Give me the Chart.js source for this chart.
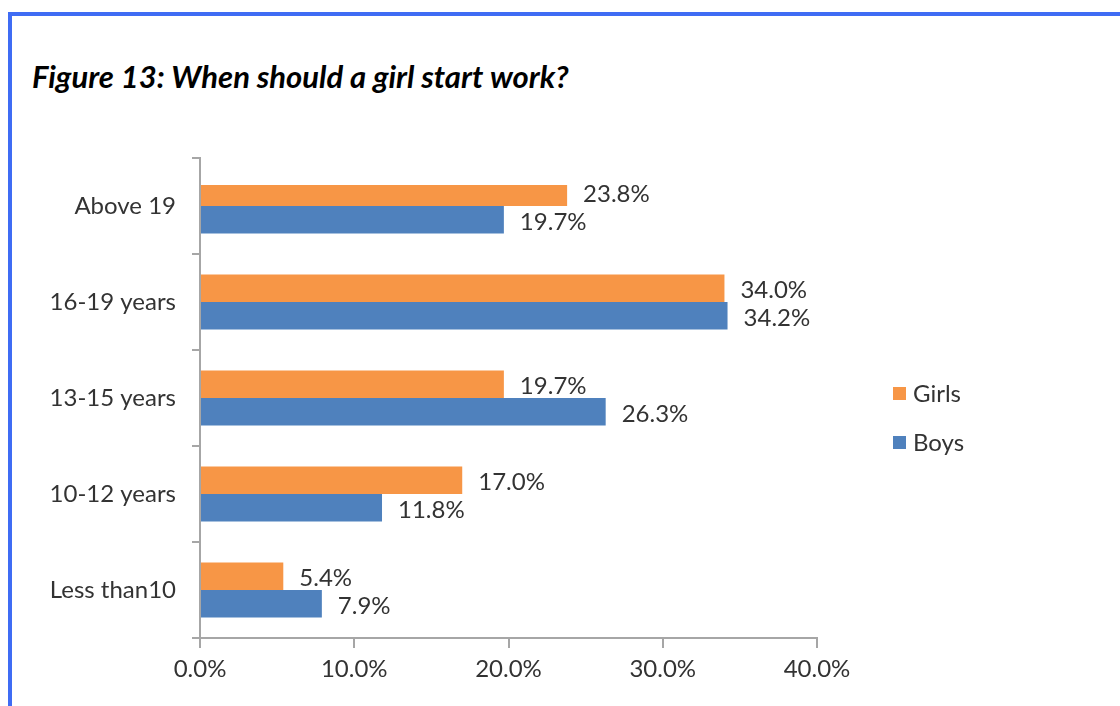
<!DOCTYPE html>
<html>
<head>
<meta charset="utf-8">
<script src="https://cdn.jsdelivr.net/npm/chart.js@4.4.1/dist/chart.umd.min.js"></script>
<style>
  body { margin: 0; background: #fff; }
  #frame {
    position: absolute; left: 8px; top: 12px; width: 1200px; height: 800px;
    border-top: 4px solid #3f6cf4; border-left: 4px solid #3f6cf4;
  }
  #title {
    position: absolute; left: 32px; top: 57px;
    font: italic bold 31px Lato, "Open Sans", sans-serif; color: #000;
  }
  #wrap { position: absolute; left: 0; top: 0; width: 1120px; height: 706px; }
  #legend { position: absolute; left: 893px; top: 378px; font: 24px Lato, sans-serif; color: #333; }
  #legend div { height: 49px; display: flex; align-items: flex-start; }
  #legend span.box { display: inline-block; width: 13px; height: 13px; margin: 9px 7px 0 0; }
</style>
</head>
<body>
<div id="frame"></div>
<div id="title">Figure 13: When should a girl start work?</div>
<div id="wrap"><canvas id="chart"></canvas></div>
<div id="legend"></div>
<script>
// ---------- data ----------
const ageGroups = ["Above 19", "16-19 years", "13-15 years", "10-12 years", "Less than10"];
const girls = [23.8, 34.0, 19.7, 17.0, 5.4];
const boys = [19.7, 34.2, 26.3, 11.8, 7.9];
const xTicks = [0, 10, 20, 30, 40];

const axisGrey = "#a6a6a6";
const textColor = "#333333";
const labelFont = { family: "Lato", size: 24 };

// value labels at the end of each bar
const barLabels = {
  id: "barLabels",
  afterDatasetsDraw(chart) {
    const ctx = chart.ctx;
    ctx.save();
    ctx.font = "24px Lato";
    ctx.fillStyle = textColor;
    ctx.textBaseline = "middle";
    ctx.textAlign = "left";
    chart.data.datasets.forEach((ds, i) => {
      chart.getDatasetMeta(i).data.forEach((bar, j) => {
        ctx.fillText(ds.data[j].toFixed(1) + "%", bar.x + 16, bar.y + 2);
      });
    });
    ctx.restore();
  }
};

const chart = new Chart(document.getElementById("chart"), {
  type: "bar",
  data: {
    labels: ageGroups,
    datasets: [
      { label: "Girls", data: girls, backgroundColor: "#f79646", clip: { left: 0, top: -27, right: 0, bottom: 0 } },
      { label: "Boys", data: boys, backgroundColor: "#4f81bd", clip: { left: 0, top: -27, right: 0, bottom: 0 } }
    ]
  },
  options: {
    indexAxis: "y",
    responsive: true,
    maintainAspectRatio: false,
    animation: false,
    categoryPercentage: 0.575,
    barPercentage: 1,
    layout: { padding: { top: 158, right: 303, left: 0, bottom: 0 } },
    plugins: {
      legend: { display: false },
      tooltip: { enabled: false }
    },
    scales: {
      x: {
        min: 0, max: 40,
        afterBuildTicks(scale) { scale.ticks = xTicks.map(v => ({ value: v })); },
        afterFit(scale) { scale.height = 68; },
        border: { color: axisGrey, width: 2 },
        grid: { drawOnChartArea: false, color: axisGrey, lineWidth: 2, tickLength: 10 },
        ticks: {
          color: textColor, font: labelFont, padding: 7,
          callback: v => v.toFixed(1) + "%"
        }
      },
      y: {
        afterFit(scale) { scale.width = 200; },
        border: { color: axisGrey, width: 2 },
        grid: { drawOnChartArea: false, color: axisGrey, lineWidth: 2, tickLength: 8, offset: true },
        ticks: { color: textColor, font: labelFont, padding: 16 }
      }
    }
  },
  plugins: [barLabels]
});

// legend built from the chart's own legend items
const legendBox = document.getElementById("legend");
chart.options.plugins.legend.labels.generateLabels(chart).forEach(item => {
  const row = document.createElement("div");
  const box = document.createElement("span");
  box.className = "box";
  box.style.background = item.fillStyle;
  row.appendChild(box);
  row.appendChild(document.createTextNode(item.text));
  legendBox.appendChild(row);
});
</script>
</body>
</html>
